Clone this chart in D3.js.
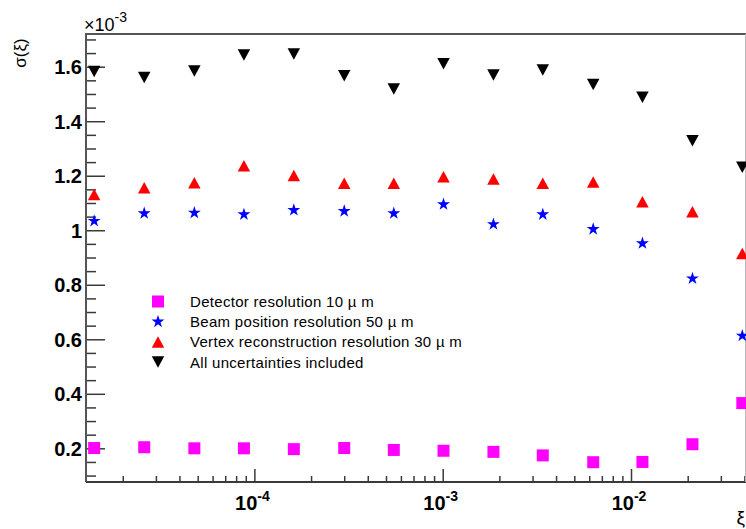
<!DOCTYPE html>
<html>
<head>
<meta charset="utf-8">
<script src="https://cdn.jsdelivr.net/npm/d3@7"></script>
<style>
  body { margin: 0; background: #fff; }
  svg { display: block; font-family: "Liberation Sans", Arial, sans-serif; }
</style>
</head>
<body>
<svg id="chart"></svg>
<script>
// xi values (log axis)
const xi = [1.41e-5, 2.6e-5, 4.8e-5, 8.8e-5, 1.62e-4, 3.0e-4, 5.5e-4, 1.01e-3, 1.86e-3, 3.4e-3, 6.3e-3, 1.15e-2, 2.12e-2, 3.9e-2];

// sigma(xi), in units of 1e-3
const detector = [0.201, 0.204, 0.200, 0.200, 0.197, 0.201, 0.194, 0.191, 0.187, 0.174, 0.149, 0.150, 0.215, 0.366];
const beam = [1.034, 1.062, 1.064, 1.058, 1.074, 1.070, 1.062, 1.095, 1.022, 1.058, 1.004, 0.952, 0.823, 0.613];
const vertex = [1.131, 1.156, 1.174, 1.237, 1.201, 1.172, 1.172, 1.196, 1.188, 1.172, 1.177, 1.105, 1.068, 0.915];
const allUnc = [1.582, 1.560, 1.584, 1.643, 1.647, 1.567, 1.518, 1.611, 1.570, 1.588, 1.535, 1.488, 1.328, 1.231];

const legendLabels = [
    "Detector resolution 10 \u00b5 m",
    "Beam position resolution 50 \u00b5 m",
    "Vertex reconstruction resolution 30 \u00b5 m",
    "All uncertainties included"
];
const yTickValues = [0.2, 0.4, 0.6, 0.8, 1, 1.2, 1.4, 1.6];
const xMajorTicks = [1e-4, 1e-3, 1e-2];
const xTickExponents = ["-4", "-3", "-2"];

const width = 746, height = 529;
const frame = { left: 86, right: 746, top: 34, bottom: 482 };

const svg = d3.select("#chart")
    .attr("width", width)
    .attr("height", height);

const xScale = d3.scaleLog()
    .domain([1.276e-5, 0.0408])
    .range([frame.left, frame.right]);

const yScale = d3.scaleLinear()
    .domain([0.0764, 1.72])
    .range([frame.bottom, frame.top]);

const axisColor = "#3a3a3a";

// marker shapes
const squarePath = (s) => `M${-s/2},${-s/2}h${s}v${s}h${-s}Z`;
const triUp = (w, h) => `M0,${-h/2}L${w/2},${h/2}L${-w/2},${h/2}Z`;
const triDown = (w, h) => `M0,${h/2}L${w/2},${-h/2}L${-w/2},${-h/2}Z`;
const starPath = d3.symbol().type(d3.symbolStar).size(52)();

const series = [
    { values: detector, color: "#ff00ff", path: squarePath(12) },
    { values: beam, color: "#0000ff", path: starPath },
    { values: vertex, color: "#ff0000", path: triUp(12.5, 11.5) },
    { values: allUnc, color: "#000000", path: triDown(12.5, 11.5) }
];

// y axis, ticks point into the frame
const yMinor = d3.range(0.1, 1.72, 0.05).map(v => +v.toFixed(2)).filter(v => !yTickValues.includes(v));

svg.append("g")
    .attr("transform", `translate(${frame.left},0)`)
    .call(d3.axisLeft(yScale).tickValues(yMinor).tickSize(-10).tickFormat(""))
    .call(g => g.select(".domain").remove())
    .call(g => g.selectAll("line").attr("stroke", axisColor).attr("stroke-width", 1.5));

svg.append("g")
    .attr("transform", `translate(${frame.left},0)`)
    .call(d3.axisLeft(yScale).tickValues(yTickValues).tickSize(-19).tickPadding(4).tickFormat(d3.format("")))
    .call(g => g.select(".domain").remove())
    .call(g => g.selectAll("line").attr("stroke", axisColor).attr("stroke-width", 1.5))
    .call(g => g.selectAll("text")
        .attr("fill", "#000")
        .attr("font-size", 20)
        .attr("font-weight", "bold")
        .attr("dy", "0.35em"));

// x axis, log minor ticks
const xMinor = [];
[1e-5, 1e-4, 1e-3, 1e-2].forEach(dec => {
    for (let k = 2; k <= 9; k++) {
        const v = dec * k;
        if (v > xScale.domain()[0] && v < xScale.domain()[1]) xMinor.push(v);
    }
});

svg.append("g")
    .attr("transform", `translate(0,${frame.bottom})`)
    .call(d3.axisBottom(xScale).tickValues(xMinor).tickSize(-6).tickFormat(""))
    .call(g => g.select(".domain").remove())
    .call(g => g.selectAll("line").attr("stroke", axisColor).attr("stroke-width", 1.5));

svg.append("g")
    .attr("transform", `translate(0,${frame.bottom})`)
    .call(d3.axisBottom(xScale).tickValues(xMajorTicks).tickSize(-13).tickFormat(""))
    .call(g => g.select(".domain").remove())
    .call(g => g.selectAll("line").attr("stroke", axisColor).attr("stroke-width", 1.5));

const xLabels = svg.append("g")
    .selectAll("text")
    .data(xMajorTicks)
    .join("text")
    .attr("x", d => xScale(d) - 2)
    .attr("y", 510)
    .attr("text-anchor", "middle")
    .attr("font-size", 20)
    .attr("font-weight", "bold");
xLabels.append("tspan").text("10");
xLabels.append("tspan")
    .attr("dy", -9)
    .attr("font-size", 14)
    .text((d, i) => xTickExponents[i]);

// frame
svg.append("path")
    .attr("d", `M${frame.left},${frame.bottom}V${frame.top}H${frame.right}`)
    .attr("fill", "none")
    .attr("stroke", "#555")
    .attr("stroke-width", 2);
svg.append("line")
    .attr("x1", frame.left).attr("x2", frame.right)
    .attr("y1", frame.bottom).attr("y2", frame.bottom)
    .attr("stroke", axisColor)
    .attr("stroke-width", 2);
svg.append("line")
    .attr("x1", 745.5).attr("x2", 745.5)
    .attr("y1", frame.top).attr("y2", frame.bottom)
    .attr("stroke", "#bbb")
    .attr("stroke-width", 1);

// axis titles
const expo = svg.append("text")
    .attr("x", 84)
    .attr("y", 31)
    .attr("font-size", 18);
expo.append("tspan").text("\u00d710");
expo.append("tspan").attr("dy", -9).attr("font-size", 14).text("-3");

svg.append("text")
    .attr("transform", "translate(26,53) rotate(-90)")
    .attr("text-anchor", "middle")
    .attr("font-size", 17)
    .text("\u03c3(\u03be)");

svg.append("text")
    .attr("x", 745)
    .attr("y", 524)
    .attr("text-anchor", "end")
    .attr("font-size", 19)
    .text("\u03be");

// data points
const plot = svg.append("g");
series.forEach(s => {
    plot.append("g")
        .selectAll("path")
        .data(s.values)
        .join("path")
        .attr("d", s.path)
        .attr("fill", s.color)
        .attr("transform", (d, i) => `translate(${xScale(xi[i])},${yScale(d)})`);
});

// legend
const legend = svg.append("g").attr("transform", "translate(158,301.5)");
const rows = legend.selectAll("g")
    .data(series)
    .join("g")
    .attr("transform", (d, i) => `translate(0,${i * 20.2})`);
rows.append("path")
    .attr("d", d => d.path)
    .attr("fill", d => d.color);
rows.append("text")
    .attr("x", 32)
    .attr("y", 5.5)
    .attr("font-size", 15)
    .attr("letter-spacing", 0.3)
    .text((d, i) => legendLabels[i]);
</script>
</body>
</html>
